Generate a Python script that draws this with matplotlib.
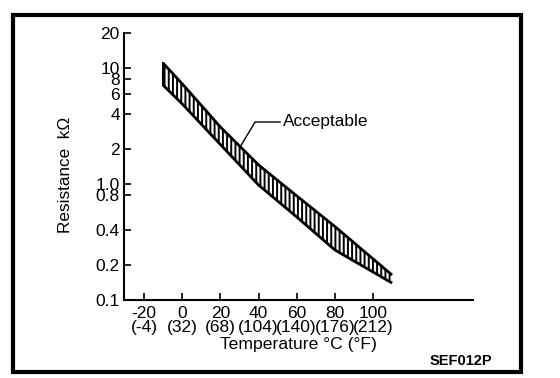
import matplotlib
matplotlib.use("Agg")
import matplotlib.pyplot as plt
from matplotlib.patches import Rectangle

plt.rcParams['font.family'] = ['Liberation Sans', 'DejaVu Sans']
plt.rcParams['hatch.linewidth'] = 1.4

# Data
temp_c = [-10, 0, 20, 40, 60, 80, 110]
upper_kohm = [11.0, 7.3, 3.1, 1.46, 0.79, 0.43, 0.164]
lower_kohm = [7.1, 4.9, 2.19, 0.98, 0.52, 0.27, 0.14]

xticks = [-20, 0, 20, 40, 60, 80, 100]
xtick_labels = ["-20\n(-4)", "0\n(32)", "20\n(68)", "40\n(104)", "60\n(140)", "80\n(176)", "100\n(212)"]
yticks = [0.1, 0.2, 0.4, 0.8, 1.0, 2, 4, 6, 8, 10, 20]
ytick_labels = ["0.1", "0.2", "0.4", "0.8", "1.0", "2", "4", "6", "8", "10", "20"]

leader_x = [30.3, 38.2, 51.3]
leader_y = [2.08, 3.42, 3.42]
label_pos = (52.8, 3.42)

fig = plt.figure(figsize=(5.6, 3.78), dpi=100)
ax = fig.add_axes([124/560, 1-300/378, (473-124)/560, (300-33)/378])

ax.fill_between(temp_c, lower_kohm, upper_kohm, facecolor='white',
                edgecolor='black', hatch='||||', linewidth=0)
ax.plot(temp_c, upper_kohm, color='black', lw=2.0, solid_capstyle='butt')
ax.plot(temp_c, lower_kohm, color='black', lw=2.0, solid_capstyle='butt')
ax.plot([temp_c[0], temp_c[0]], [lower_kohm[0], upper_kohm[0]], color='black', lw=1.5)

ax.plot(leader_x, leader_y, color='black', lw=1.0)
ax.text(label_pos[0], label_pos[1], "Acceptable", ha='left', va='center', fontsize=12.4)

ax.set_yscale('log')
ax.set_xlim(-30.5, 152.4)
ax.set_ylim(0.1, 20)
ax.set_xticks(xticks)
ax.set_xticklabels(xtick_labels, fontsize=12.5, linespacing=0.98)
ax.set_yticks(yticks)
ax.set_yticklabels(ytick_labels, fontsize=12.5)
ax.yaxis.set_minor_locator(matplotlib.ticker.NullLocator())
ax.tick_params(axis='both', direction='in', length=5, width=1.2, pad=3)
ax.tick_params(axis='x', pad=4)

for s in ['top', 'right']:
    ax.spines[s].set_visible(False)
for s in ['left', 'bottom']:
    ax.spines[s].set_linewidth(1.5)

ax.set_xlabel("Temperature °C (°F)", fontsize=12.6, labelpad=1)
ax.set_ylabel("Resistance  kΩ", fontsize=12.3)
ax.yaxis.set_label_coords(-0.145, 0.47)

fig.text(430/560, 1-361/378, "SEF012P", fontsize=10.5, ha='left', va='center', fontweight='bold')

fig.patches.append(Rectangle((13/560, 1-372/378), (521-13)/560, (372-15)/378,
                             transform=fig.transFigure, fill=False, edgecolor='black', lw=3))

fig.savefig("out.png", dpi=100)
